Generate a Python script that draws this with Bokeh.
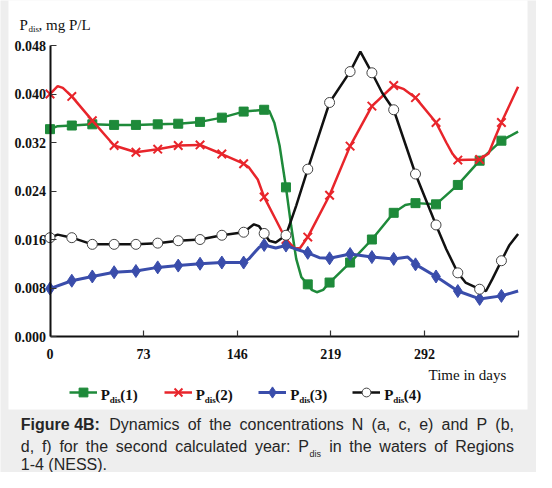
from bokeh.plotting import figure
from bokeh.models import Range1d, FixedTicker, Label, BoxAnnotation, Legend, LegendItem, NumeralTickFormatter
from bokeh.core.properties import value
from bokeh.embed import file_html
from bokeh.resources import INLINE

# ---------------- data ----------------
x_ticks = [0, 73, 146, 219, 292, 365]
x_tick_labels = ["0", "73", "146", "219", "292", ""]
y_ticks = [0.0, 0.008, 0.016, 0.024, 0.032, 0.040, 0.048]

mk_days = [0, 17, 33, 50, 67, 84, 100, 117, 134, 151, 167, 184, 201, 218, 234, 251, 268, 285, 301, 318, 335, 352]

p1_days = [0, 6, 17, 33, 50, 67, 84, 100, 117, 134, 151, 167, 171, 175, 179, 184, 188, 192, 196, 201,
           204, 208, 213, 218, 234, 251, 268, 277, 285, 301, 318, 335, 352, 365]
p1_vals = [0.0342, 0.0347, 0.0348, 0.0350, 0.0349, 0.0349, 0.0350, 0.0351, 0.0354, 0.0361,
           0.0371, 0.0374, 0.0372, 0.0352, 0.0315, 0.0246, 0.0183, 0.0128, 0.0098, 0.0086,
           0.0077, 0.0073, 0.0077, 0.0089, 0.0122, 0.0160, 0.0204, 0.0217, 0.0220, 0.0218,
           0.0250, 0.0290, 0.0323, 0.0338]
p1_mk = [0.0342, 0.0348, 0.0350, 0.0349, 0.0349, 0.0350, 0.0351, 0.0354, 0.0361, 0.0371, 0.0374,
         0.0246, 0.0086, 0.0089, 0.0122, 0.0160, 0.0204, 0.0220, 0.0218, 0.0250, 0.0290, 0.0323]

p2_days = [0, 6, 10, 17, 33, 50, 67, 84, 100, 117, 134, 151, 155, 162, 167, 176, 184, 191, 195, 201,
           218, 234, 251, 268, 276, 285, 301, 309, 314, 318, 335, 342, 347, 352, 365]
p2_vals = [0.0400, 0.0413, 0.0410, 0.0396, 0.0356, 0.0315, 0.0304, 0.0309, 0.0315, 0.0316,
           0.0301, 0.0285, 0.0279, 0.0259, 0.0230, 0.0193, 0.0160, 0.0145, 0.0146, 0.0164,
           0.0233, 0.0314, 0.0380, 0.0414, 0.0408, 0.0394, 0.0353, 0.0320, 0.0301, 0.0291,
           0.0292, 0.0302, 0.0328, 0.0353, 0.0412]
p2_mk = [0.0400, 0.0396, 0.0356, 0.0315, 0.0304, 0.0309, 0.0315, 0.0316, 0.0301, 0.0285, 0.0230,
         0.0160, 0.0164, 0.0233, 0.0314, 0.0380, 0.0414, 0.0394, 0.0353, 0.0291, 0.0292, 0.0353]

p3_days = [0, 17, 33, 50, 67, 84, 100, 117, 134, 151, 155, 163, 167, 176, 184, 192, 201, 210, 218, 234,
           251, 268, 279, 285, 301, 318, 335, 352, 365]
p3_vals = [0.0079, 0.0092, 0.0099, 0.0106, 0.0108, 0.0114, 0.0117, 0.0120, 0.0122, 0.0122,
           0.0128, 0.0147, 0.0151, 0.0146, 0.0150, 0.0144, 0.0138, 0.0130, 0.0129, 0.0136,
           0.0131, 0.0128, 0.0131, 0.0119, 0.0099, 0.0075, 0.0062, 0.0067, 0.0075]
p3_mk = [0.0079, 0.0092, 0.0099, 0.0106, 0.0108, 0.0114, 0.0117, 0.0120, 0.0122, 0.0122, 0.0151,
         0.0150, 0.0138, 0.0129, 0.0136, 0.0131, 0.0128, 0.0119, 0.0099, 0.0075, 0.0062, 0.0067]

p4_days = [0, 6, 17, 33, 50, 67, 84, 100, 117, 134, 151, 159, 163, 167, 171, 176, 184, 192, 201, 218,
           234, 242, 251, 259, 268, 285, 301, 309, 318, 324, 335, 340, 345, 352, 358, 365]
p4_vals = [0.0163, 0.0168, 0.0163, 0.0152, 0.0152, 0.0152, 0.0154, 0.0158, 0.0160, 0.0167,
           0.0172, 0.0185, 0.0182, 0.0170, 0.0158, 0.0155, 0.0167, 0.0216, 0.0276, 0.0386,
           0.0437, 0.0470, 0.0435, 0.0402, 0.0374, 0.0268, 0.0184, 0.0144, 0.0105, 0.0089,
           0.0078, 0.0075, 0.0095, 0.0125, 0.0150, 0.0169]
p4_mk = [0.0163, 0.0163, 0.0152, 0.0152, 0.0152, 0.0154, 0.0158, 0.0160, 0.0167, 0.0172, 0.0170,
         0.0167, 0.0276, 0.0386, 0.0437, 0.0435, 0.0374, 0.0268, 0.0184, 0.0105, 0.0078, 0.0125]

series_names = ["(1)", "(2)", "(3)", "(4)"]

caption_bold = "Figure 4B:"
caption_line1 = "Dynamics of the concentrations N (a, c, e) and P (b,"
caption_line2a = "d, f) for the second calculated year: P"
caption_sub = "dis"
caption_line2b = "in the waters of Regions"
caption_line3 = "1-4 (NESS)."

# ---------------- layout ----------------
W, H = 536, 472
# plot region on the canvas: day 0 -> x 49.5, day 365 -> x 517.6 ; 0 -> y 336, 0.048 -> y 45
X0, X1, Y0, Y1 = 49.5, 517.6, 336.0, 45.0
XMAX, YMAX = 365.0, 0.048
kx = (X1 - X0) / XMAX
ky = (Y0 - Y1) / YMAX

SERIF = "Liberation Serif"
SANS = "Liberation Sans"

p = figure(width=W, height=H, output_backend="svg", toolbar_location=None,
           x_range=Range1d(-X0 / kx, XMAX + (W - X1) / kx),
           y_range=Range1d(-(H - Y0) / ky, YMAX + Y1 / ky),
           min_border=0, min_border_left=0, min_border_right=0,
           min_border_top=0, min_border_bottom=0)
p.grid.visible = False
p.outline_line_color = None
p.background_fill_color = "#eeeeee"
p.border_fill_color = "#eeeeee"

def sx(rx):   # reference picture x -> canvas (frame) x
    return rx - 8

def sy(ry):   # reference picture y -> frame y measured from the bottom
    return H - (ry - 8)

# white panel behind the chart
p.add_layout(BoxAnnotation(left=sx(16), right=sx(535), top=sy(7), bottom=sy(417),
                           left_units="screen", right_units="screen",
                           top_units="screen", bottom_units="screen",
                           fill_color="white", fill_alpha=1.0, line_color=None,
                           level="underlay"))

# axes placed inside the frame
p.xaxis.fixed_location = 0
p.yaxis.fixed_location = 0
p.xaxis.bounds = (0, XMAX)
p.yaxis.bounds = (0, YMAX)
p.xaxis.ticker = FixedTicker(ticks=x_ticks)
p.xaxis.major_label_overrides = {t: l for t, l in zip(x_ticks, x_tick_labels)}
p.yaxis.ticker = FixedTicker(ticks=y_ticks)
p.yaxis.formatter = NumeralTickFormatter(format="0.000")
for ax in (p.xaxis[0], p.yaxis[0]):
    ax.axis_line_width = 2
    ax.axis_line_color = "#111111"
    ax.major_tick_in = 6
    ax.major_tick_out = 0
    ax.major_tick_line_width = 1.2
    ax.major_tick_line_color = "#333333"
    ax.minor_tick_line_color = None
    ax.major_label_text_font = SERIF
    ax.major_label_text_font_style = "bold"
    ax.major_label_text_font_size = "14px"
    ax.major_label_text_color = "#111111"
p.xaxis.major_label_standoff = 12
p.yaxis.major_label_standoff = 4

# series
GREEN, RED, BLUE, BLACK = "#1e8a3a", "#e8252b", "#3a4dab", "#111111"
lw = 2.5
r1l = p.line(p1_days, p1_vals, line_color=GREEN, line_width=lw)
r1m = p.scatter(mk_days, p1_mk, marker="square", size=9, fill_color=GREEN, line_color=GREEN)
r2l = p.line(p2_days, p2_vals, line_color=RED, line_width=lw)
r2m = p.scatter(mk_days, p2_mk, marker="x", size=12, line_color=RED, line_width=2)
r3l = p.line(p3_days, p3_vals, line_color=BLUE, line_width=3)
r3m = p.scatter(mk_days, p3_mk, marker="diamond", size=13, fill_color=BLUE, line_color=BLUE)
r4l = p.line(p4_days, p4_vals, line_color=BLACK, line_width=lw)
r4m = p.scatter(mk_days, p4_mk, marker="circle", size=10, fill_color="white",
                line_color="#444444", line_width=1)

# legend glyphs (one small legend per series)
leg_glyph_x = [76.7, 171.7, 266, 360]
leg_gh = [22, 28, 28, 22]
leg_cy = 399.7
for (rl, rm), gx, gh in zip([(r1l, r1m), (r2l, r2m), (r3l, r3m), (r4l, r4m)], leg_glyph_x, leg_gh):
    lg = Legend(items=[LegendItem(label=value(" "), renderers=[rl, rm])],
                location=(sx(gx), sy(leg_cy) - gh / 2),
                orientation="horizontal", padding=0, margin=0, spacing=0,
                glyph_width=28, glyph_height=gh, label_standoff=0,
                label_width=0, label_height=0, label_text_font_size="1px",
                border_line_color=None, background_fill_alpha=0)
    p.add_layout(lg)

def lab(text, rx, ry, size, font=SERIF, style="normal", color="#111111", align="left"):
    # ry is the wanted baseline; small lift compensates the rendered baseline offset
    p.add_layout(Label(x=sx(rx), y=sy(ry - 0.27 * size), x_units="screen", y_units="screen",
                       text=text, text_font=font, text_font_size=f"{size}px",
                       text_font_style=style, text_color=color, text_align=align,
                       text_baseline="alphabetic"))

# legend texts
leg_text_x = [108.3, 203.3, 297.7, 391.7]
for tx, nm in zip(leg_text_x, series_names):
    lab("P", tx, 407, 15, style="bold")
    lab("dis", tx + 9, 410, 9, style="bold")
    lab(nm, tx + 19.5, 407, 15, style="bold")

# axis titles
lab("P", 27, 36.5, 15)
lab("dis", 36, 39, 9)
lab(", mg P/L", 46, 36.5, 15)
lab("Time in days", 436, 386.5, 15)

# ---- caption: justified text, laid out word by word (Arial metrics) ----
CAP = "#262626"
FS = 16
AW = {' ': 278, '(': 333, ')': 333, ',': 278, '-': 333, '.': 278, ':': 278,
      '1': 556, '4': 556, 'B': 667, 'D': 722, 'E': 667, 'F': 611, 'N': 722, 'P': 667,
      'R': 722, 'S': 667, 'a': 556, 'b': 556, 'c': 500, 'd': 556, 'e': 556, 'f': 278,
      'g': 556, 'h': 556, 'i': 222, 'l': 222, 'm': 833, 'n': 556, 'o': 556, 'r': 333,
      's': 500, 't': 278, 'u': 556, 'w': 722, 'y': 500}

def tw(s, size=FS):
    return sum(AW.get(c, 556) for c in s) * size / 1000.0

def justify(words, x_start, x_end, baseline, extra=None):
    extra = extra or {}
    widths = [tw(w) + extra.get(i, 0) for i, w in enumerate(words)]
    gap = (x_end - x_start - sum(widths)) / (len(words) - 1)
    x = x_start
    pos = []
    for w, wd in zip(words, widths):
        lab(w, x, baseline, FS, font=SANS, color=CAP)
        pos.append(x)
        x += wd + gap
    return pos

LEFT, RIGHT = 28.3, 521.5
lab(caption_bold, LEFT, 436, FS, font=SANS, style="bold", color=CAP)
justify(caption_line1.split(" "), 116.7, RIGHT, 436)

w2 = caption_line2a.split(" ") + caption_line2b.split(" ")
i_p = len(caption_line2a.split(" ")) - 1
sub_w = tw(caption_sub, 9) + 1.0
pos2 = justify(w2, LEFT, RIGHT, 458, extra={i_p: sub_w})
lab(caption_sub, pos2[i_p] + tw("P") + 0.5, 463.5, 9, font=SANS, color=CAP)
lab(caption_line3, LEFT, 476, FS, font=SANS, color=CAP)

open("out.html", "w").write(file_html(p, INLINE))
